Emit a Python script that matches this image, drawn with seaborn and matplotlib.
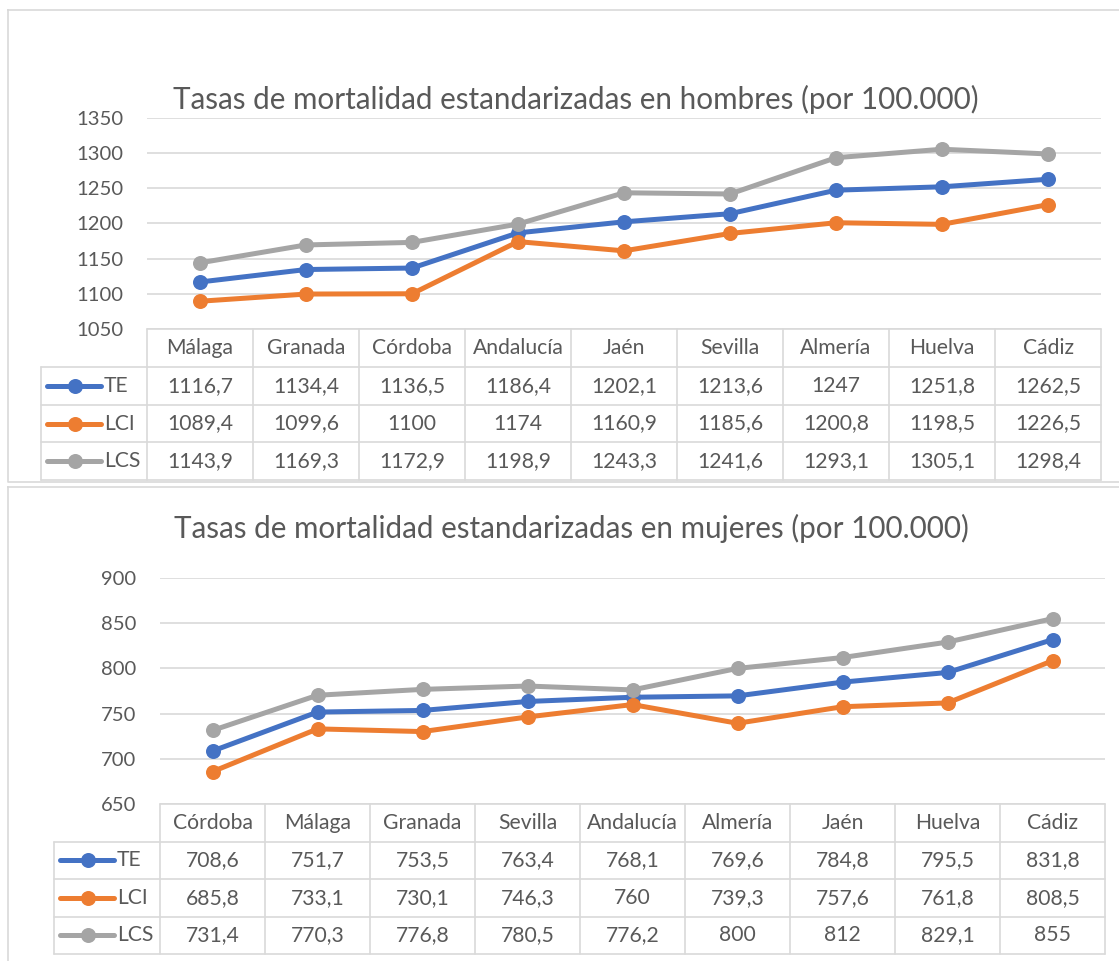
import matplotlib
matplotlib.use('Agg')
import matplotlib.pyplot as plt
import seaborn as sns
import pandas as pd

W, H = 1119, 961

series = ['TE', 'LCI', 'LCS']
palette = {'TE': '#4472C4', 'LCI': '#ED7D31', 'LCS': '#A5A5A5'}

# hombres
h_cities = ['Málaga', 'Granada', 'Córdoba', 'Andalucía', 'Jaén', 'Sevilla', 'Almería', 'Huelva', 'Cádiz']
h_te = [1116.7, 1134.4, 1136.5, 1186.4, 1202.1, 1213.6, 1247, 1251.8, 1262.5]
h_lci = [1089.4, 1099.6, 1100, 1174, 1160.9, 1185.6, 1200.8, 1198.5, 1226.5]
h_lcs = [1143.9, 1169.3, 1172.9, 1198.9, 1243.3, 1241.6, 1293.1, 1305.1, 1298.4]
h_ticks = [1050, 1100, 1150, 1200, 1250, 1300, 1350]

# mujeres
m_cities = ['Córdoba', 'Málaga', 'Granada', 'Sevilla', 'Andalucía', 'Almería', 'Jaén', 'Huelva', 'Cádiz']
m_te = [708.6, 751.7, 753.5, 763.4, 768.1, 769.6, 784.8, 795.5, 831.8]
m_lci = [685.8, 733.1, 730.1, 746.3, 760, 739.3, 757.6, 761.8, 808.5]
m_lcs = [731.4, 770.3, 776.8, 780.5, 776.2, 800, 812, 829.1, 855]
m_ticks = [650, 700, 750, 800, 850, 900]

TXT = '#595959'
GRID = '#D9D9D9'
LW = 3.6
MS = 10.8

sns.set_theme(style='white')
plt.rcParams['font.family'] = ['Lato', 'DejaVu Sans']

fig = plt.figure(figsize=(W / 100, H / 100), dpi=100)
over = fig.add_axes([0, 0, 1, 1], zorder=5)
over.set_xlim(0, W)
over.set_ylim(H, 0)
over.axis('off')
over.patch.set_alpha(0)


def fmt(v):
    return f'{v:g}'.replace('.', ',')


def chart(cities, te, lci, lcs, ticks, box, left, right, top, bottom, leg_left, row_h, title, title_xy):
    # outer box
    bx0, by0, bx1, by1 = box
    over.plot([bx0, bx1, bx1, bx0, bx0], [by0, by0, by1, by1, by0], color=GRID, lw=1.2)
    over.text(title_xy[0], title_xy[1], title, ha='center', va='center', fontsize=21.3, color=TXT)

    ax = fig.add_axes([left / W, 1 - bottom / H, (right - left) / W, (bottom - top) / H])
    df = pd.DataFrame({
        'ciudad': cities * 3,
        'valor': te + lci + lcs,
        'serie': [s for s in series for _ in cities],
    })
    sns.lineplot(data=df, x='ciudad', y='valor', hue='serie', palette=palette, marker='o',
                 markersize=MS, markeredgewidth=0, linewidth=LW, sort=False, legend=False, ax=ax)
    ax.set_xlim(-0.5, len(cities) - 0.5)
    ax.set_ylim(ticks[0], ticks[-1])
    ax.set_yticks(ticks)
    ax.set_yticklabels([str(t) for t in ticks], fontsize=14.6, color=TXT)
    ax.tick_params(axis='y', length=0, pad=17)
    ax.set_xticks([])
    ax.set_xlabel('')
    ax.set_ylabel('')
    ax.grid(axis='y', color=GRID, lw=1.2)
    ax.set_axisbelow(True)
    for s in ax.spines.values():
        s.set_visible(False)
    ax.patch.set_alpha(0)

    # data table
    n = len(cities)
    cw = (right - left) / n
    ys = [bottom + i * row_h for i in range(5)]
    for y in ys[1:]:
        over.plot([leg_left, right], [y, y], color=GRID, lw=1.2)
    over.plot([left, right], [ys[0], ys[0]], color=GRID, lw=1.2)
    over.plot([leg_left, leg_left], [ys[1], ys[4]], color=GRID, lw=1.2)
    for i in range(n + 1):
        x = left + i * cw
        over.plot([x, x], [ys[0], ys[4]], color=GRID, lw=1.2)
    for i, c in enumerate(cities):
        over.text(left + (i + 0.5) * cw, (ys[0] + ys[1]) / 2, c, ha='center', va='center',
                  fontsize=15.2, color=TXT)
    for r, (name, vals) in enumerate(zip(series, [te, lci, lcs])):
        yc = (ys[r + 1] + ys[r + 2]) / 2
        over.plot([leg_left + 6, leg_left + 60], [yc, yc], color=palette[name], lw=LW,
                  solid_capstyle='round')
        over.plot([leg_left + 34], [yc], 'o', color=palette[name], markersize=MS, markeredgewidth=0)
        over.text(leg_left + 63, yc, name, ha='left', va='center', fontsize=15.2, color=TXT)
        for i, v in enumerate(vals):
            over.text(left + (i + 0.5) * cw, yc, fmt(v), ha='center', va='center',
                      fontsize=15.2, color=TXT)


chart(h_cities, h_te, h_lci, h_lcs, h_ticks, (8, 10, 1125, 482), 147, 1101, 117.6, 329, 41, 37.8,
      'Tasas de mortalidad estandarizadas en hombres (por 100.000)', (576, 99))
chart(m_cities, m_te, m_lci, m_lcs, m_ticks, (8, 487, 1125, 968), 160, 1105, 578, 804, 54, 37.5,
      'Tasas de mortalidad estandarizadas en mujeres (por 100.000)', (571, 528))

fig.savefig('out.png', dpi=100, facecolor='white')
